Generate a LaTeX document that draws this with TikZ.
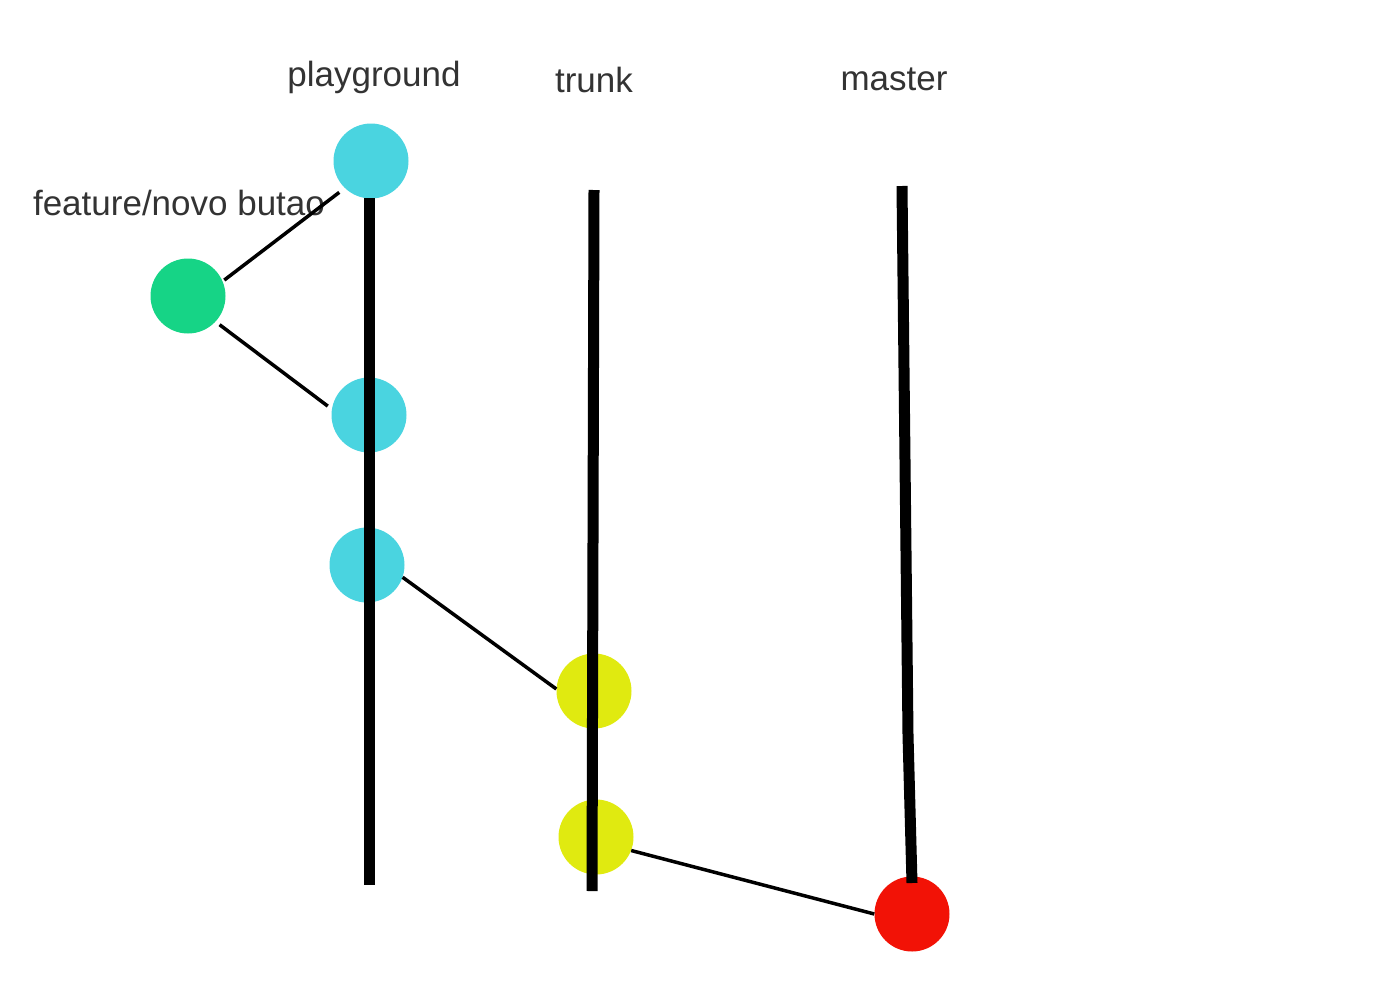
\documentclass[tikz,border=0pt]{standalone}
\usepackage{fontspec}
\setmainfont{Liberation Sans}
\definecolor{pgcyan}{RGB}{74,212,224}
\definecolor{featgreen}{RGB}{22,212,134}
\definecolor{trunkyellow}{RGB}{224,234,16}
\definecolor{masterred}{RGB}{242,18,6}
\definecolor{labelgray}{RGB}{51,51,51}
\begin{document}
\begin{tikzpicture}[x=1pt,y=-1pt,
    commit/.style={circle, minimum size=75pt, inner sep=0pt},
    branch/.style={line width=11pt},
    merge/.style={line width=3.5pt},
    lbl/.style={anchor=base, inner sep=0pt, text=labelgray,
      font=\fontsize{35}{42}\selectfont}]
    \useasboundingbox (0,0) rectangle (1400,980);
    % branch names
    \node[lbl] (lpg) at (374,86) {playground};
    \node[lbl] (ltr) at (594,92) {trunk};
    \node[lbl] (lma) at (894,90) {master};
    \node[lbl] (lft) at (179,215) {feature/novo butao};
    % commits
    \node[commit, fill=pgcyan] (p1) at (371,161) {};
    \node[commit, fill=featgreen] (f1) at (188,296) {};
    \node[commit, fill=pgcyan] (p2) at (369,415) {};
    \node[commit, fill=pgcyan] (p3) at (367,565) {};
    \node[commit, fill=trunkyellow] (t1) at (594,691) {};
    \node[commit, fill=trunkyellow] (t2) at (596,837) {};
    \node[commit, fill=masterred] (m1) at (912,914) {};
    % branch lines
    \coordinate (pgtop) at (369,198);
    \coordinate (pgbot) at (369,885);
    \coordinate (trtop) at (594,190);
    \coordinate (trbot) at (592,891);
    \coordinate (matop) at (902,186);
    \coordinate (mabend) at (908,735);
    \coordinate (mabot) at (912,883);
    \draw [merge, shorten <=2pt, shorten >=7pt] (f1.23) -- (p1.226);
    \draw [merge, shorten <=5pt, shorten >=5pt] (f1.-43) -- (p2.171);
    \draw [merge] (p3.-19) -- (t1.177);
    \draw [merge] (t2.-21) -- (m1.180);
    \draw [branch] (pgtop) -- (pgbot);
    \draw [branch] (trtop) -- (trbot);
    \draw [branch] (matop) -- (mabend) -- (mabot);
  \end{tikzpicture}
\end{document}
